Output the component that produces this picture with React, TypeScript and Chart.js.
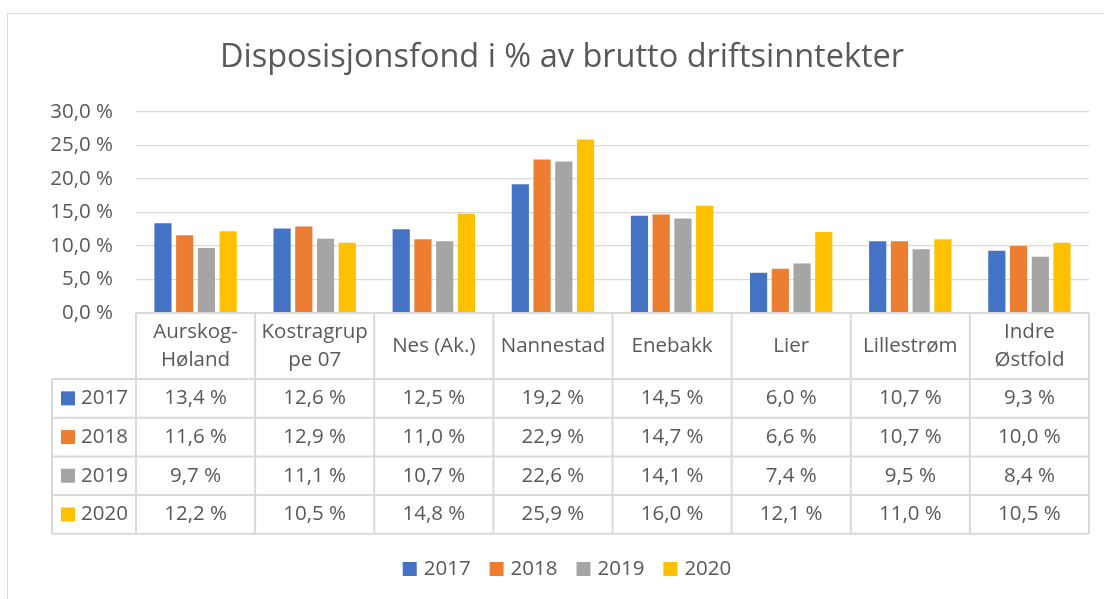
import React, { useEffect, useRef } from "react";
import { Chart, registerables } from "chart.js";

Chart.register(...registerables);

const title = "Disposisjonsfond i % av brutto driftsinntekter";
const categories = ["Aurskog-Høland", "Kostragruppe 07", "Nes (Ak.)", "Nannestad", "Enebakk", "Lier", "Lillestrøm", "Indre Østfold"];
const categoryLines = [["Aurskog-", "Høland"], ["Kostragrup", "pe 07"], ["Nes (Ak.)"], ["Nannestad"], ["Enebakk"], ["Lier"], ["Lillestrøm"], ["Indre", "Østfold"]];
const seriesNames = ["2017", "2018", "2019", "2020"];
const values2017 = [13.4, 12.6, 12.5, 19.2, 14.5, 6.0, 10.7, 9.3];
const values2018 = [11.6, 12.9, 11.0, 22.9, 14.7, 6.6, 10.7, 10.0];
const values2019 = [9.7, 11.1, 10.7, 22.6, 14.1, 7.4, 9.5, 8.4];
const values2020 = [12.2, 10.5, 14.8, 25.9, 16.0, 12.1, 11.0, 10.5];
const seriesValues = [values2017, values2018, values2019, values2020];
const seriesColors = ["#4472C4", "#ED7D31", "#A5A5A5", "#FFC000"];
const yMin = 0;
const yMax = 30;
const yStep = 5;

const FONT = "'Open Sans', 'Noto Sans', sans-serif";
const TEXT = "#595959";
const LINE = "#d9d9d9";

const fmt = (v: number) => v.toFixed(1).replace(".", ",") + " %";

const excelPlugin = {
  id: "excelTable",
  beforeDraw(chart: any) {
    const ctx = chart.ctx;
    ctx.save();
    ctx.fillStyle = "#ffffff";
    ctx.fillRect(0, 0, chart.width, chart.height);
    ctx.strokeStyle = LINE;
    ctx.lineWidth = 1;
    ctx.strokeRect(7.5, 13.5, 1110, 600);
    ctx.restore();
  },
  afterDraw(chart: any) {
    const ctx = chart.ctx;
    const area = chart.chartArea;
    const n = categories.length;
    const colW = (area.right - area.left) / n;
    const tableLeft = 52;
    const headerTop = area.bottom;
    const headerBottom = headerTop + 66;
    const rowH = 38.7;
    const tableBottom = headerBottom + rowH * seriesNames.length;

    ctx.save();
    // title
    ctx.fillStyle = TEXT;
    ctx.font = `32.5px ${FONT}`;
    ctx.textAlign = "center";
    ctx.textBaseline = "middle";
    ctx.fillText(title, 562, 58);

    // table lines
    ctx.strokeStyle = LINE;
    ctx.lineWidth = 2;
    ctx.beginPath();
    ctx.moveTo(area.left, headerTop);
    ctx.lineTo(area.right, headerTop);
    for (let r = 0; r <= seriesNames.length; r++) {
      const y = headerBottom + r * rowH;
      ctx.moveTo(tableLeft, y);
      ctx.lineTo(area.right, y);
    }
    ctx.moveTo(tableLeft, headerBottom);
    ctx.lineTo(tableLeft, tableBottom);
    for (let i = 0; i <= n; i++) {
      const x = area.left + i * colW;
      ctx.moveTo(x, headerTop);
      ctx.lineTo(x, tableBottom);
    }
    ctx.stroke();

    // header text
    ctx.font = `20.5px ${FONT}`;
    ctx.fillStyle = TEXT;
    ctx.textAlign = "center";
    const hMid = (headerTop + headerBottom) / 2;
    categoryLines.forEach((lines, i) => {
      const cx = chart.scales.x.getPixelForValue(i);
      const lh = 28;
      lines.forEach((ln, k) => {
        const y = hMid + (k - (lines.length - 1) / 2) * lh;
        ctx.fillText(ln, cx, y);
      });
    });

    // rows
    seriesNames.forEach((name, r) => {
      const cy = headerBottom + r * rowH + rowH / 2;
      ctx.fillStyle = seriesColors[r];
      ctx.fillRect(61, cy - 7, 14, 14);
      ctx.fillStyle = TEXT;
      ctx.textAlign = "left";
      ctx.fillText(name, 81, cy);
      ctx.textAlign = "center";
      seriesValues[r].forEach((v, i) => {
        const cx = chart.scales.x.getPixelForValue(i);
        ctx.fillText(fmt(v), cx, cy);
      });
    });

    // legend
    const ly = 569;
    const box = 14;
    const gapBox = 7;
    const gapItem = 19;
    const widths = seriesNames.map((s) => ctx.measureText(s).width);
    const total = widths.reduce((a, w) => a + box + gapBox + w, 0) + gapItem * (seriesNames.length - 1);
    let lx = 567 - total / 2;
    ctx.textAlign = "left";
    seriesNames.forEach((s, i) => {
      ctx.fillStyle = seriesColors[i];
      ctx.fillRect(lx, ly - box / 2, box, box);
      ctx.fillStyle = TEXT;
      ctx.fillText(s, lx + box + gapBox, ly);
      lx += box + gapBox + widths[i] + gapItem;
    });
    ctx.restore();
  },
};

export default function App() {
  const ref = useRef<HTMLCanvasElement | null>(null);
  useEffect(() => {
    if (!ref.current) return;
    const chart = new Chart(ref.current, {
      type: "bar",
      data: {
        labels: categories,
        datasets: seriesNames.map((name, i) => ({
          label: name,
          data: seriesValues[i],
          backgroundColor: seriesColors[i],
          borderWidth: 0,
          categoryPercentage: 0.73,
          barPercentage: 0.79,
        })),
      },
      options: {
        responsive: false,
        animation: false,
        layout: { padding: { top: 112, bottom: 599 - 313, left: 0, right: 15 } },
        plugins: {
          legend: { display: false },
          title: { display: false },
          tooltip: { enabled: false },
        },
        scales: {
          x: { display: false },
          y: {
            min: yMin,
            max: yMax,
            afterFit: (s: any) => {
              s.width = 136;
            },
            border: { display: false },
            grid: { color: LINE, lineWidth: 1.2, drawTicks: false },
            ticks: {
              stepSize: yStep,
              padding: 23,
              color: TEXT,
              font: { family: FONT, size: 20.5 },
              callback: (v: any) => fmt(Number(v)),
            },
          },
        },
      },
      plugins: [excelPlugin],
    });
    return () => chart.destroy();
  }, []);
  return (
    <div style={{ position: "fixed", left: 0, top: 0, width: 1104, height: 599 }}>
      <canvas ref={ref} width={1104} height={599} />
    </div>
  );
}
